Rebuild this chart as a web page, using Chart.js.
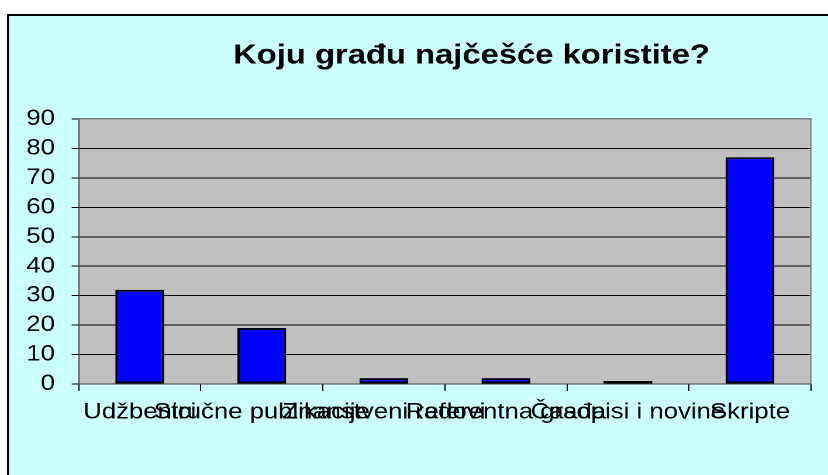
<!DOCTYPE html>
<html><head><meta charset="utf-8">
<script src="https://cdn.jsdelivr.net/npm/chart.js@4"></script>
<style>
html,body{margin:0;padding:0;background:#fff;overflow:hidden;width:828px;height:475px}
#wrap{width:708px;height:475px;transform:scaleX(1.16949);transform-origin:0 0}
canvas{display:block}
</style></head><body>
<div id="wrap"><canvas id="c" width="708" height="475"></canvas></div>
<script>
const categories = ['Udžbenici', 'Stručne publikacije', 'Znanstveni radovi', 'Referentna građa', 'Časopisi i novine', 'Skripte'];
const values = [32, 19, 2, 2, 1, 77];
const yTicks = [0, 10, 20, 30, 40, 50, 60, 70, 80, 90];
const titleText = 'Koju građu najčešće koristite?';

const SX = 828 / 708;
const FONT = '"Liberation Sans", Arial, sans-serif';

const framePlugin = {
  id: 'frame',
  beforeDraw(chart) {
    const ctx = chart.ctx, a = chart.chartArea;
    ctx.save();
    ctx.fillStyle = '#ffffff';
    ctx.fillRect(0, 0, chart.width, chart.height);
    const fx = 8 / SX, fy = 15;
    ctx.fillStyle = '#CCFFFF';
    ctx.fillRect(fx, fy, chart.width, chart.height);
    ctx.fillStyle = '#000000';
    ctx.fillRect(fx - 1 / SX, fy - 1, chart.width, 2);
    ctx.fillRect(fx - 1 / SX, fy - 1, 2 / SX, chart.height);
    ctx.fillStyle = '#C0C0C0';
    ctx.fillRect(a.left, a.top, a.right - a.left, a.bottom - a.top);
    ctx.restore();
  },
  beforeDatasetsDraw(chart) {
    const ctx = chart.ctx, a = chart.chartArea;
    ctx.save();
    ctx.fillStyle = '#808080';
    ctx.fillRect(a.left, a.top - 1, a.right - a.left, 1.5);
    ctx.fillRect(a.right - 1 / SX, a.top - 1, 1.5 / SX, a.bottom - a.top + 1);
    ctx.restore();
  },
  afterDraw(chart) {
    const ctx = chart.ctx;
    ctx.save();
    ctx.fillStyle = '#000';
    ctx.font = 'bold 28px ' + FONT;
    ctx.textAlign = 'center';
    ctx.textBaseline = 'middle';
    ctx.fillText(titleText, 471.5 / SX, 56);
    ctx.restore();
  }
};

new Chart(document.getElementById('c'), {
  type: 'bar',
  data: {
    labels: categories,
    datasets: [{
      data: values,
      backgroundColor: '#0000FF',
      borderColor: '#000000',
      borderWidth: 2,
      borderSkipped: false,
      categoryPercentage: 0.4,
      barPercentage: 1.0
    }]
  },
  options: {
    responsive: false,
    animation: false,
    devicePixelRatio: 2,
    layout: { padding: { left: 0, right: 14.5, top: 119, bottom: 0 } },
    plugins: { legend: { display: false }, title: { display: false }, tooltip: { enabled: false } },
    scales: {
      x: {
        afterFit(s) { s.height = 91; },
        grid: { drawOnChartArea: false, drawTicks: true, tickLength: 7, tickColor: '#000', offset: true },
        border: { display: true, color: '#404040', width: 1 },
        ticks: { color: '#000', font: { family: FONT, size: 22 }, padding: 8.3, autoSkip: false, maxRotation: 0, minRotation: 0 }
      },
      y: {
        min: 0, max: 90,
        afterFit(s) { s.width = 67.3; },
        afterBuildTicks(s) { s.ticks = yTicks.map(v => ({ value: v })); },
        grid: {
          color: c => (c.tick && (c.tick.value === 0 || c.tick.value === 90)) ? 'rgba(0,0,0,0)' : '#000',
          tickColor: '#000', tickLength: 6, lineWidth: 1
        },
        border: { display: true, color: '#404040', width: 1 },
        ticks: { color: '#000', font: { family: FONT, size: 22 }, padding: 14.3 }
      }
    }
  },
  plugins: [framePlugin]
});
</script>
</body></html>
